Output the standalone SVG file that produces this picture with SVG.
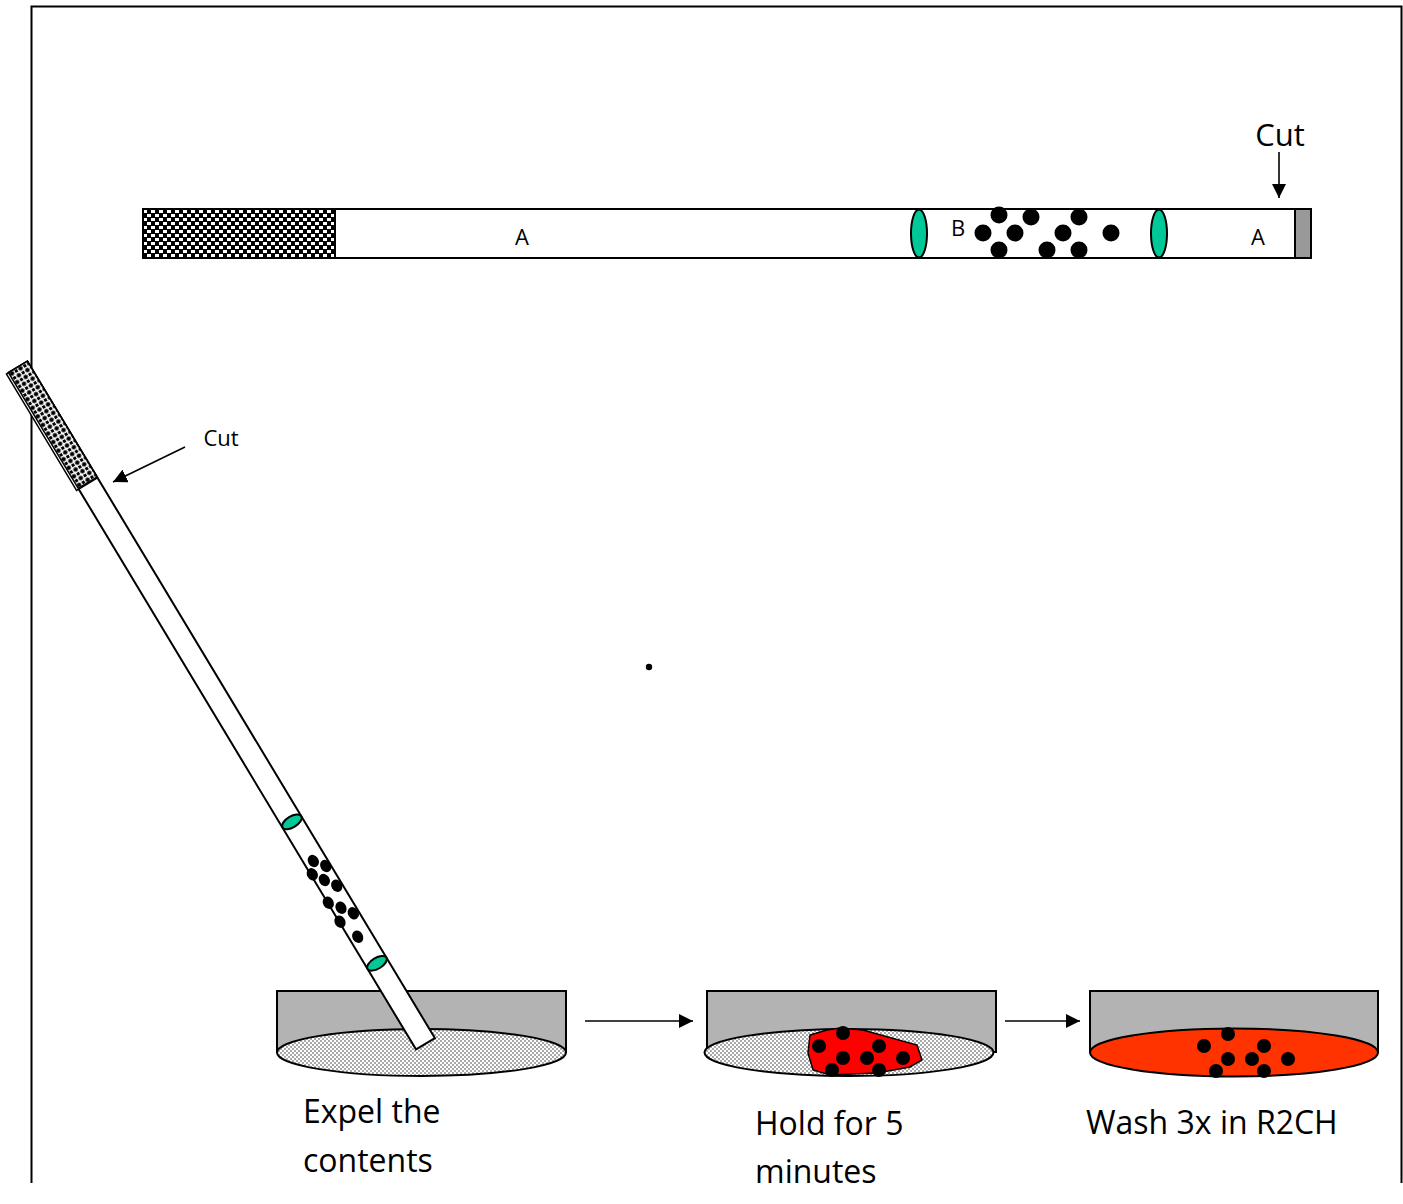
<svg xmlns="http://www.w3.org/2000/svg" width="1403" height="1204" viewBox="0 0 1403 1204">
  <defs>
    <style>
      .lbl { font-family: "Open Sans", "Liberation Sans", sans-serif; fill: #000; }
      .edge { stroke: #000; stroke-width: 2; }
      .dot { fill: #000; }
      .plug { fill: #00c896; stroke: #000; stroke-width: 2; }
      .dishwall { fill: #b3b3b3; stroke: #000; stroke-width: 2; }
      .conn { stroke: #000; stroke-width: 1.6; fill: none; }
    </style>
    <!-- cotton plug texture for the straight straw -->
    <pattern id="plugTex" width="8" height="8" patternUnits="userSpaceOnUse" x="143" y="209">
      <rect width="8" height="8" fill="#000"/>
      <rect x="0" y="1" width="4" height="3" fill="#fff"/>
      <rect x="4" y="5" width="4" height="3" fill="#fff"/>
    </pattern>
    <!-- cotton plug texture for the tilted straw -->
    <pattern id="plugTex2" width="10" height="10" patternUnits="userSpaceOnUse" x="-11" y="0">
      <rect width="10" height="10" fill="#fff"/>
      <circle cx="2.5" cy="2.5" r="2.3" fill="#000"/>
      <circle cx="7.5" cy="7.5" r="2.3" fill="#000"/>
      <rect x="6" y="1" width="3" height="3" fill="#000"/>
      <rect x="1" y="6" width="3" height="3" fill="#000"/>
    </pattern>
    <!-- medium in the dishes -->
    <pattern id="medium" width="4" height="4" patternUnits="userSpaceOnUse">
      <rect width="4" height="4" fill="#fff"/>
      <rect width="2" height="2" fill="#a8a8a8"/>
      <rect x="2" y="2" width="2" height="2" fill="#a8a8a8"/>
    </pattern>
    <marker id="arrow" viewBox="0 0 10 10" refX="10" refY="5" markerWidth="14" markerHeight="14" markerUnits="userSpaceOnUse" orient="auto">
      <path d="M0,0 L10,5 L0,10 z" fill="#000"/>
    </marker>
  </defs>

  <rect width="1403" height="1204" fill="#fff"/>

  <!-- page frame, open at the bottom -->
  <path d="M31.5,1183 V6.5 H1401.5 V1183" fill="none" stroke="#000" stroke-width="2"/>

  <!-- straight straw -->
  <g id="straw-top">
    <rect x="143" y="209" width="1168" height="49" fill="#fff" class="edge"/>
    <rect x="143" y="209" width="192" height="49" fill="url(#plugTex)" class="edge"/>
    <rect x="1295" y="209" width="16" height="49" fill="#999" class="edge"/>
    <ellipse cx="919" cy="233.5" rx="8" ry="24" class="plug"/>
    <ellipse cx="1159" cy="233.5" rx="8" ry="24" class="plug"/>
    <g class="dot">
      <circle cx="999" cy="215" r="8.5"/>
      <circle cx="1031" cy="217" r="8.5"/>
      <circle cx="1079" cy="217" r="8.5"/>
      <circle cx="983" cy="233" r="8.5"/>
      <circle cx="1015" cy="233" r="8.5"/>
      <circle cx="1063" cy="233" r="8.5"/>
      <circle cx="1111" cy="233" r="8.5"/>
      <circle cx="999" cy="250" r="8.5"/>
      <circle cx="1047" cy="250" r="8.5"/>
      <circle cx="1079" cy="250" r="8.5"/>
    </g>
    <text class="lbl" x="522" y="245" font-size="22" text-anchor="middle">A</text>
    <text class="lbl" x="958" y="236" font-size="22" text-anchor="middle">B</text>
    <text class="lbl" x="1258" y="245" font-size="22" text-anchor="middle">A</text>
  </g>

  <g id="cut-top">
    <text class="lbl" x="1280" y="146" font-size="31" text-anchor="middle">Cut</text>
  </g>

  <!-- dishes -->
  <g id="dish-1">
    <rect x="277" y="991" width="289" height="61" class="dishwall"/>
    <ellipse cx="421.5" cy="1052.5" rx="144.5" ry="23.5" fill="url(#medium)" stroke="#000" stroke-width="2"/>
  </g>

  <g id="dish-2">
    <rect x="707" y="991" width="289" height="61" class="dishwall"/>
    <ellipse cx="849" cy="1052.5" rx="144.5" ry="23.5" fill="url(#medium)" stroke="#000" stroke-width="2"/>
    <path d="M810,1035 L827,1030 L840,1028 L863,1030 L917,1045 L922,1060 L910,1067 L877,1073 L830,1075 L813,1070 L808,1053 Z" fill="#ff0000" stroke="#000" stroke-width="1.5"/>
    <g class="dot">
      <circle cx="843" cy="1033" r="7"/>
      <circle cx="819" cy="1046" r="7"/>
      <circle cx="879" cy="1046" r="7"/>
      <circle cx="843" cy="1058" r="7"/>
      <circle cx="867" cy="1058" r="7"/>
      <circle cx="903" cy="1058" r="7"/>
      <circle cx="832" cy="1070" r="7"/>
      <circle cx="879" cy="1070" r="7"/>
    </g>
  </g>

  <g id="dish-3">
    <rect x="1090" y="991" width="288" height="61" class="dishwall"/>
    <ellipse cx="1234" cy="1052.5" rx="144" ry="24" fill="#ff3300" stroke="#000" stroke-width="2"/>
    <g class="dot">
      <circle cx="1228" cy="1034" r="7"/>
      <circle cx="1204" cy="1046" r="7"/>
      <circle cx="1264" cy="1046" r="7"/>
      <circle cx="1228" cy="1059" r="7"/>
      <circle cx="1252" cy="1059" r="7"/>
      <circle cx="1288" cy="1059" r="7"/>
      <circle cx="1216" cy="1071" r="7"/>
      <circle cx="1264" cy="1071" r="7"/>
    </g>
  </g>

  <!-- tilted straw being emptied into the first dish -->
  <g id="straw-tilted">
    <g transform="translate(18,367) rotate(-31.05)">
      <rect x="-11" y="0" width="22" height="790" fill="#fff" stroke="#000" stroke-width="2"/>
      <rect x="-13.5" y="0" width="24.5" height="136" fill="#fff" stroke="#000" stroke-width="1.5"/>
      <rect x="-11" y="0" width="22" height="135" fill="url(#plugTex2)" stroke="#000" stroke-width="1.5"/>
      <ellipse cx="0" cy="531" rx="11" ry="5.5" class="plug"/>
      <ellipse cx="0" cy="696" rx="11" ry="5.5" class="plug"/>
    </g>
    <g class="dot">
      <ellipse cx="313.3" cy="861" rx="5.3" ry="6.5" transform="rotate(-31 313.3 861)"/>
      <ellipse cx="325.7" cy="866" rx="5.3" ry="6.5" transform="rotate(-31 325.7 866)"/>
      <ellipse cx="312.3" cy="874.3" rx="5.3" ry="6.5" transform="rotate(-31 312.3 874.3)"/>
      <ellipse cx="324.3" cy="880" rx="5.3" ry="6.5" transform="rotate(-31 324.3 880)"/>
      <ellipse cx="336.7" cy="885.7" rx="5.3" ry="6.5" transform="rotate(-31 336.7 885.7)"/>
      <ellipse cx="328.3" cy="902.7" rx="5.3" ry="6.5" transform="rotate(-31 328.3 902.7)"/>
      <ellipse cx="341" cy="907.7" rx="5.3" ry="6.5" transform="rotate(-31 341 907.7)"/>
      <ellipse cx="353.3" cy="913.3" rx="5.3" ry="6.5" transform="rotate(-31 353.3 913.3)"/>
      <ellipse cx="340" cy="921.7" rx="5.3" ry="6.5" transform="rotate(-31 340 921.7)"/>
      <ellipse cx="357.7" cy="936.7" rx="5.3" ry="6.5" transform="rotate(-31 357.7 936.7)"/>
    </g>
  </g>

  <g id="cut-tilted">
    <text class="lbl" x="221" y="446" font-size="22" text-anchor="middle">Cut</text>
  </g>

  <circle id="speck" cx="649" cy="667" r="3.2" fill="#000"/>

  <!-- step labels -->
  <g id="label-expel">
    <text class="lbl" x="303" y="1123" font-size="32">Expel the</text>
    <text class="lbl" x="303" y="1172" font-size="32">contents</text>
  </g>
  <g id="label-hold">
    <text class="lbl" x="755" y="1135" font-size="32">Hold for 5</text>
    <text class="lbl" x="755" y="1183" font-size="32">minutes</text>
  </g>
  <g id="label-wash">
    <text class="lbl" x="1086" y="1134" font-size="32">Wash 3x in R2CH</text>
  </g>

  <!-- connectors -->
  <g id="connectors">
    <line class="conn" x1="1279" y1="152" x2="1279" y2="198" marker-end="url(#arrow)"/>
    <line class="conn" x1="185" y1="447" x2="113" y2="482" marker-end="url(#arrow)"/>
    <line class="conn" x1="585" y1="1021" x2="693" y2="1021" marker-end="url(#arrow)"/>
    <line class="conn" x1="1005" y1="1021" x2="1080" y2="1021" marker-end="url(#arrow)"/>
  </g>
</svg>
